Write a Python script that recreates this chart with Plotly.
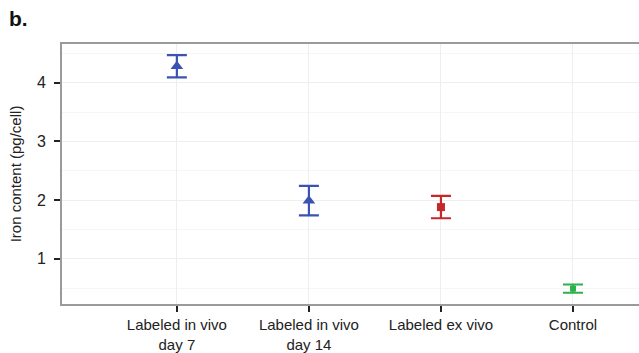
import plotly.graph_objects as go

# Iron content per cell for each labeling condition
categories = ["Labeled in vivo<br>day 7", "Labeled in vivo<br>day 14", "Labeled ex vivo", "Control"]
iron_mean = [4.28, 1.99, 1.88, 0.49]
iron_err = [0.19, 0.25, 0.19, 0.07]
y_ticks = [1, 2, 3, 4]

blue = "#3A53B2"
red = "#C4282B"
green = "#2BB24C"

groups = [
    (0, 2, blue, "triangle-up", 11),
    (2, 3, red, "square", 8),
    (3, 4, green, "square", 6),
]

fig = go.Figure()
for start, stop, color, symbol, size in groups:
    fig.add_trace(go.Scatter(
        x=list(range(start, stop)),
        y=iron_mean[start:stop],
        mode="markers",
        marker=dict(symbol=symbol, size=size, color=color),
        error_y=dict(type="data", array=iron_err[start:stop], color=color,
                     thickness=2.2, width=10),
        showlegend=False,
        hoverinfo="skip",
    ))

fig.update_layout(
    width=639, height=353,
    margin=dict(l=62, r=0, t=44, b=49),
    paper_bgcolor="white", plot_bgcolor="white",
    font=dict(family="Liberation Sans, Arial, sans-serif", color="#222", size=15),
    xaxis=dict(
        range=[-0.87, 3.5],
        tickmode="array", tickvals=list(range(len(categories))), ticktext=categories,
        showgrid=True, gridcolor="#EEEEEE", gridwidth=1,
        showline=True, linecolor="#9A9A9A", linewidth=2, mirror=True,
        ticks="outside", ticklen=6, tickwidth=2, tickcolor="#222",
        zeroline=False, tickfont=dict(size=15),
    ),
    yaxis=dict(
        range=[0.228, 4.66],
        tickmode="array", tickvals=y_ticks,
        showgrid=True, gridcolor="#EEEEEE", gridwidth=1,
        minor=dict(tickvals=[0.5, 1.5, 2.5, 3.5, 4.5], showgrid=True,
                   gridcolor="#F6F6F6", gridwidth=1),
        showline=True, linecolor="#9A9A9A", linewidth=2, mirror=False,
        ticks="outside", ticklen=6, tickwidth=2, tickcolor="#222",
        ticklabelstandoff=5,
        zeroline=False, tickfont=dict(size=16),
        title=dict(text="Iron content (pg/cell)", font=dict(size=15), standoff=12),
    ),
    annotations=[dict(
        text="<b>b.</b>", x=0, y=1, xref="paper", yref="paper",
        xshift=-55, yshift=39, showarrow=False, xanchor="left", yanchor="top",
        font=dict(size=21, color="#111"),
    )],
)

fig.write_html("out.html")
